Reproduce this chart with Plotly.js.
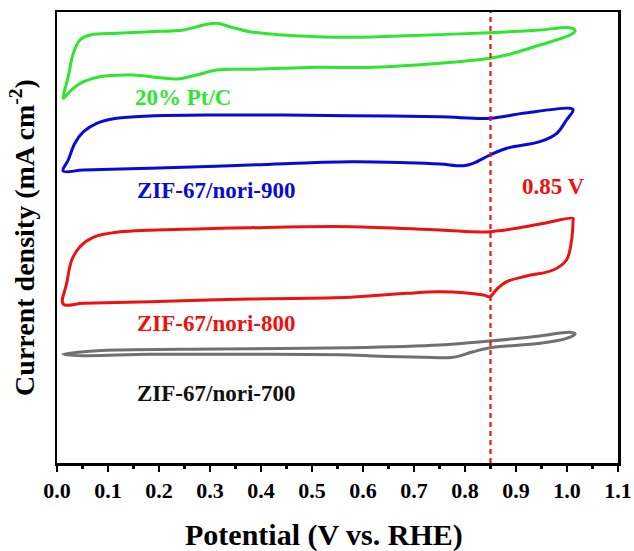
<!DOCTYPE html>
<html>
<head>
<meta charset="utf-8">
<script src="https://cdn.plot.ly/plotly-3.0.1.min.js"></script>
<style>
  html, body { margin: 0; padding: 0; background: #fff; }
  #chart { width: 634px; height: 551px; }
</style>
</head>
<body>
<div id="chart"></div>
<script>
// Cyclic voltammograms: potential (V vs. RHE) and current density (curves offset vertically, arbitrary units)
// Each loop: anodic sweep 0.01 -> 1.01 V, then cathodic sweep back.

const ptcX = [0.012, 0.022, 0.032, 0.045, 0.065, 0.117, 0.182, 0.248, 0.287, 0.313, 0.339, 0.378, 0.444, 0.509, 0.575, 0.686, 0.849, 0.947, 1.006, 1.016,
              1.006, 0.947, 0.882, 0.849, 0.751, 0.620, 0.509, 0.443, 0.378, 0.313, 0.274, 0.235, 0.202, 0.149, 0.084, 0.052, 0.032, 0.016, 0.012];
const ptcY = [36.47, 38.63, 40.97, 42.30, 42.80, 42.97, 43.13, 43.30, 43.80, 43.97, 43.63, 43.13, 42.80, 42.63, 42.57, 42.73, 43.03, 43.30, 43.53, 43.23,
              42.80, 41.80, 40.80, 40.47, 39.97, 39.57, 39.57, 39.47, 39.37, 39.30, 38.80, 38.40, 38.53, 38.80, 38.63, 38.13, 37.47, 36.63, 36.47];

const n900X = [0.012, 0.022, 0.035, 0.052, 0.078, 0.117, 0.182, 0.313, 0.444, 0.575, 0.751, 0.849, 0.914, 1.006, 1.012,
               0.999, 0.980, 0.947, 0.882, 0.849, 0.816, 0.797, 0.751, 0.686, 0.575, 0.378, 0.182, 0.052, 0.012];
const n900Y = [29.20, 30.30, 31.97, 33.13, 33.97, 34.47, 34.70, 34.80, 34.80, 34.73, 34.63, 34.47, 34.97, 35.47, 35.30,
               34.30, 32.97, 32.13, 31.47, 30.80, 29.97, 29.73, 29.90, 30.03, 30.13, 29.80, 29.47, 29.30, 29.20];

const n800X = [0.012, 0.019, 0.029, 0.045, 0.071, 0.117, 0.248, 0.378, 0.575, 0.751, 0.849, 0.947, 1.012,
               1.012, 1.009, 0.999, 0.973, 0.921, 0.882, 0.862, 0.849, 0.836, 0.751, 0.686, 0.575, 0.378, 0.182, 0.052, 0.012];
const n800Y = [15.90, 17.97, 20.30, 21.63, 22.57, 23.07, 23.37, 23.53, 23.63, 23.30, 23.13, 23.90, 24.47,
               24.30, 22.30, 20.30, 19.30, 18.70, 18.13, 17.37, 16.63, 16.80, 17.13, 16.97, 16.57, 16.40, 16.13, 15.97, 15.90];

const n700X = [0.012, 0.052, 0.117, 0.313, 0.575, 0.751, 0.849, 0.947, 1.006, 1.016,
               0.999, 0.947, 0.849, 0.816, 0.777, 0.718, 0.620, 0.575, 0.378, 0.182, 0.052, 0.012];
const n700Y = [10.87, 11.13, 11.30, 11.40, 11.53, 11.80, 12.20, 12.70, 13.07, 12.90,
               12.47, 11.97, 11.53, 11.13, 10.57, 10.57, 10.70, 10.80, 10.87, 10.87, 10.73, 10.87];

const sampleNames = ['20% Pt/C', 'ZIF-67/nori-900', 'ZIF-67/nori-800', 'ZIF-67/nori-700'];
const sampleColors = ['#2ee62e', '#0a0ad8', '#ee1111', '#707070'];
const refPotential = 0.85;
const refLabel = '0.85 V';
const xTickVals = [0, 0.1, 0.2, 0.3, 0.4, 0.5, 0.6, 0.7, 0.8, 0.9, 1.0, 1.1];
const xTickText = ['0.0', '0.1', '0.2', '0.3', '0.4', '0.5', '0.6', '0.7', '0.8', '0.9', '1.0', '1.1'];
const xTitle = 'Potential (V vs. RHE)';
const yTitle = 'Current density (mA cm<sup>-2</sup>)';

const serif = 'Liberation Serif, Times New Roman, serif';
const seriesX = [ptcX, n900X, n800X, n700X];
const seriesY = [ptcY, n900Y, n800Y, n700Y];

const traces = seriesX.map((xs, i) => ({
  x: xs, y: seriesY[i], type: 'scatter', mode: 'lines', name: sampleNames[i],
  line: { color: sampleColors[i], width: 3, shape: 'spline', smoothing: 1.0 },
  hoverinfo: 'skip'
}));

// Sample labels placed under each loop
const labelPos = [
  { x: 0.248, y: 36.6 },
  { x: 0.312, y: 27.3 },
  { x: 0.312, y: 14.0 },
  { x: 0.312, y: 7.0 }
];
const annotations = sampleNames.map((name, i) => ({
  x: labelPos[i].x, y: labelPos[i].y, xref: 'x', yref: 'y',
  text: '<b>' + name + '</b>', showarrow: false,
  font: { family: serif, size: 23, color: i === 3 ? '#111111' : sampleColors[i] }
}));
annotations.push({
  x: 0.973, y: 27.7, xref: 'x', yref: 'y', text: '<b>' + refLabel + '</b>', showarrow: false,
  font: { family: serif, size: 23, color: '#ee1111' }
});
// x-axis title, set slightly left of the plot centre
annotations.push({
  x: 0.476, y: -0.16, xref: 'paper', yref: 'paper', xanchor: 'center', yanchor: 'middle',
  text: '<b>' + xTitle + '</b>', showarrow: false,
  font: { family: serif, size: 30, color: '#000' }
});

const layout = {
  width: 634, height: 551,
  margin: { l: 57, r: 16, t: 12, b: 88 },
  paper_bgcolor: '#ffffff', plot_bgcolor: '#ffffff',
  showlegend: false,
  xaxis: {
    range: [0, 1.1], tickvals: xTickVals, ticktext: xTickText,
    ticks: 'outside', ticklen: 6, tickwidth: 2.5, tickcolor: '#000',
    minor: { dtick: 0.05, tick0: 0, ticks: 'outside', ticklen: 3, tickwidth: 2.5, tickcolor: '#000' },
    showline: true, linewidth: 2.5, linecolor: '#000', mirror: true,
    showgrid: false, zeroline: false,
    tickfont: { family: serif, size: 22, color: '#000', weight: 'bold' }
  },
  yaxis: {
    range: [0, 45.1], showticklabels: false, ticks: '',
    showline: true, linewidth: 2.5, linecolor: '#000', mirror: true,
    showgrid: false, zeroline: false,
    title: { text: '<b>' + yTitle + '</b>', font: { family: serif, size: 28, color: '#000' }, standoff: 12 }
  },
  shapes: [{
    type: 'line', xref: 'x', yref: 'paper', x0: refPotential, x1: refPotential, y0: 0, y1: 1,
    line: { color: '#ee1111', width: 2.2, dash: '5px,4px' }
  }],
  annotations: annotations
};

Plotly.newPlot('chart', traces, layout, { displayModeBar: false, staticPlot: true });
</script>
</body>
</html>
